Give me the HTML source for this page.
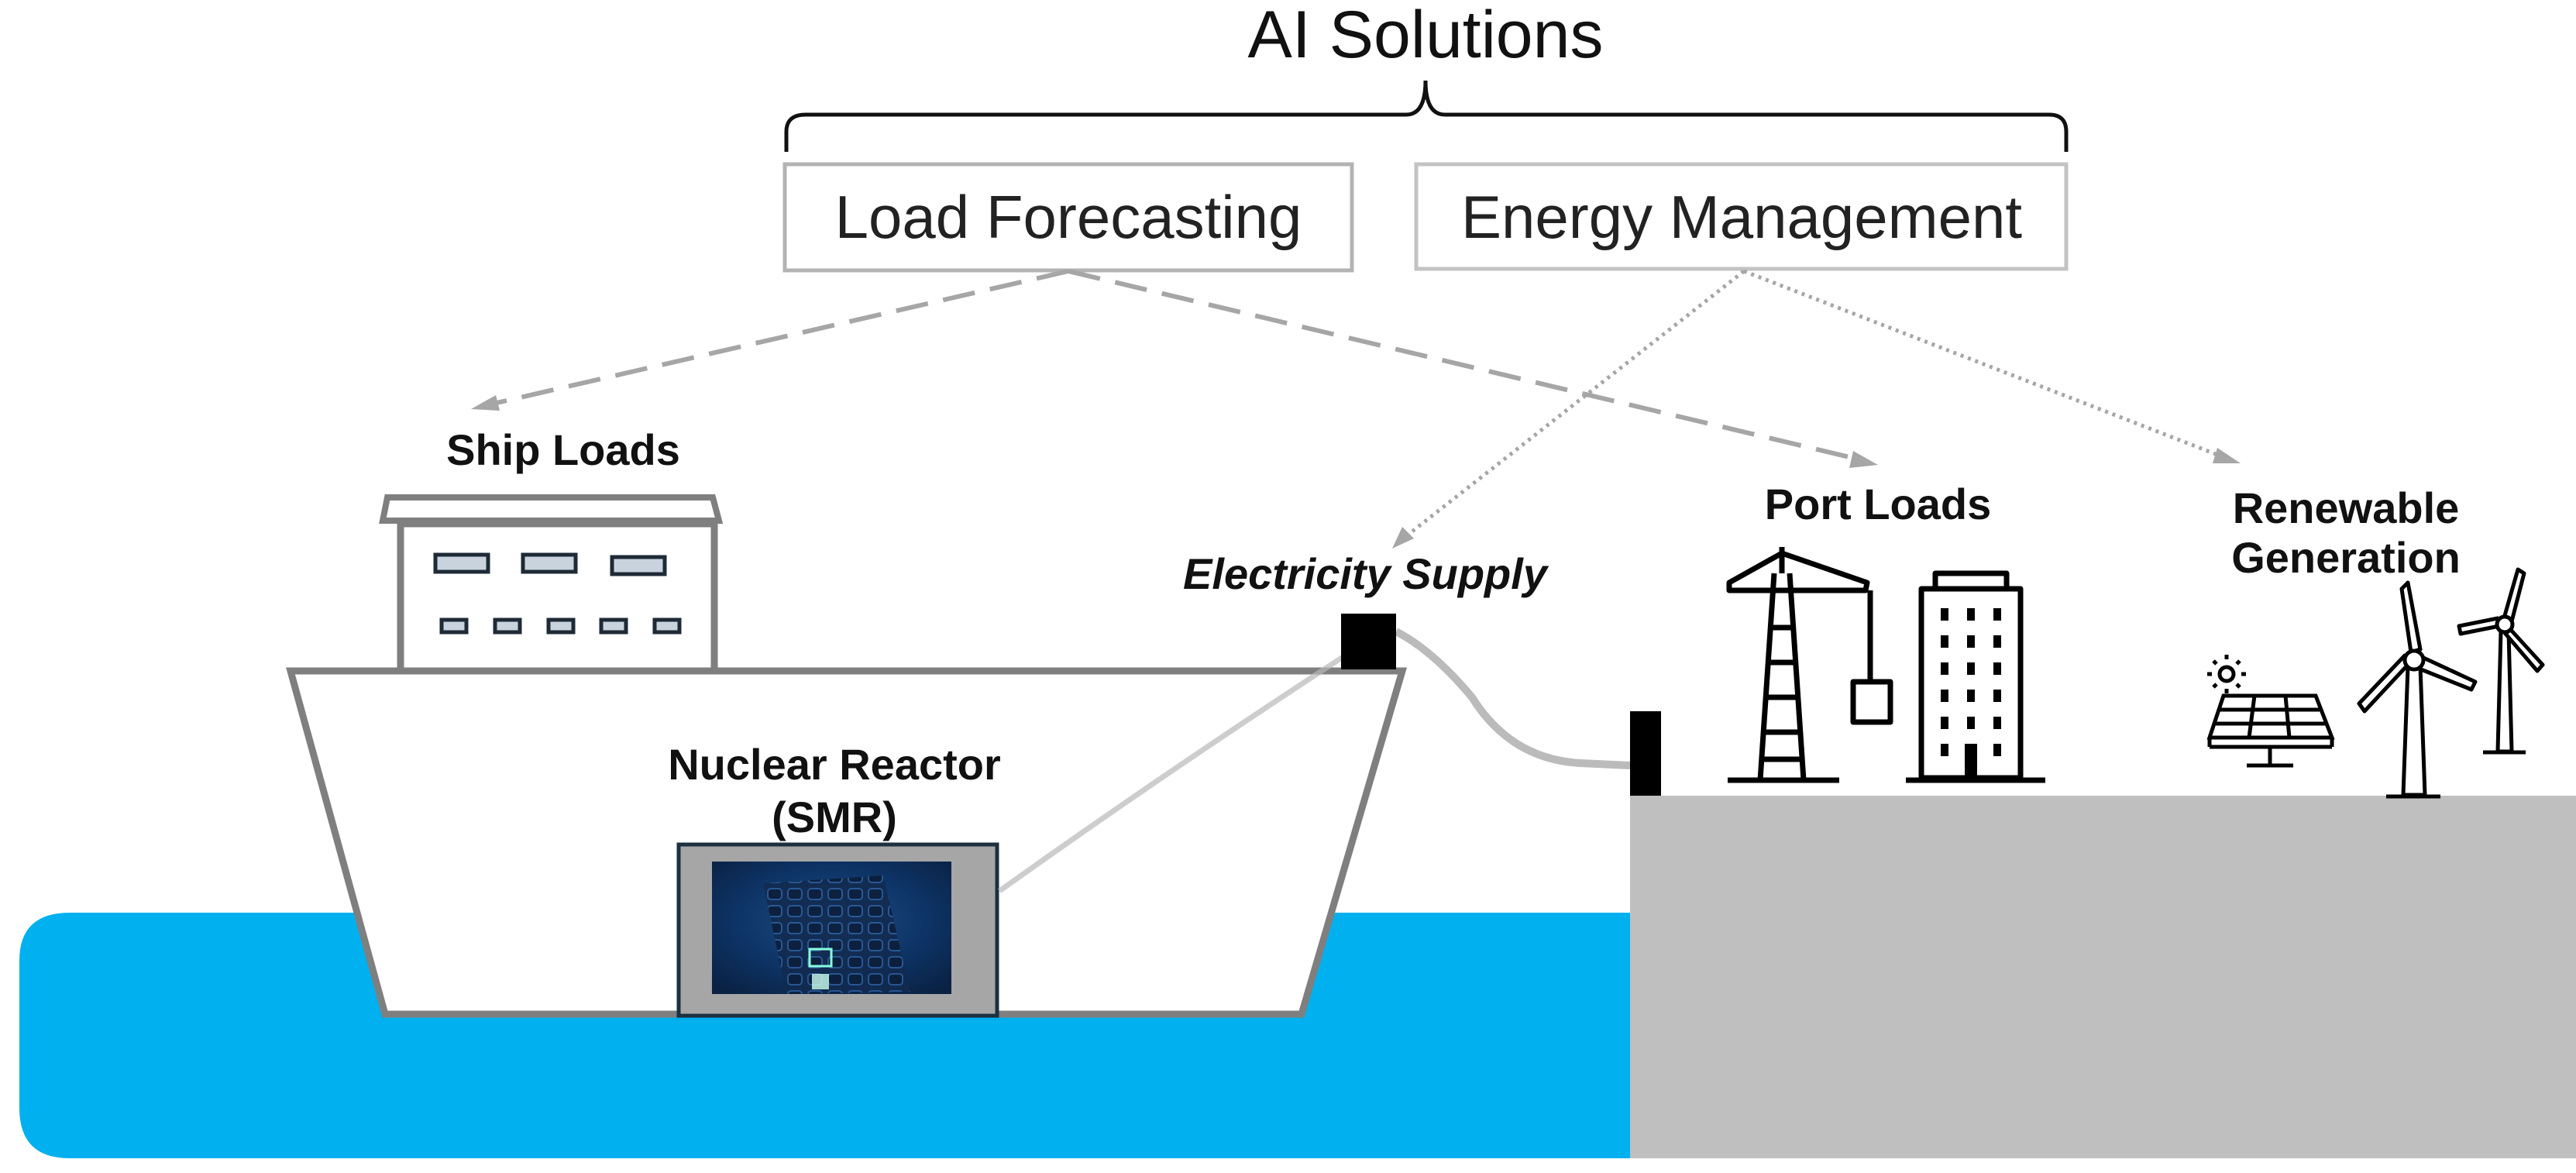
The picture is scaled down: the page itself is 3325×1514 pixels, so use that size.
<!DOCTYPE html>
<html><head><meta charset="utf-8"><style>
html,body{margin:0;padding:0;background:#fff;}
svg{display:block;}
text{font-family:"Liberation Sans",sans-serif;}
</style></head><body>
<svg width="3325" height="1514" viewBox="0 0 3325 1514" xmlns="http://www.w3.org/2000/svg">
<defs>
<radialGradient id="rg" cx="0.5" cy="0.45" r="0.7">
<stop offset="0" stop-color="#1d4f8a"/><stop offset="0.6" stop-color="#0d3263"/><stop offset="1" stop-color="#0a2142"/>
</radialGradient>
<pattern id="grid" width="26" height="22" patternUnits="userSpaceOnUse">
<rect width="26" height="22" fill="#122a4e"/><rect x="3" y="3" width="18" height="14" rx="4" fill="#0c1d38" stroke="#2a5b9a" stroke-width="2"/>
</pattern>
</defs>

<!-- water -->
<path d="M25 1240 Q25 1178 90 1178 L2104 1178 L2104 1495 L90 1495 Q25 1495 25 1430 Z" fill="#00b0ef"/>
<!-- land -->
<rect x="2104" y="1027" width="1221" height="468" fill="#bfbfbf"/>

<!-- title & brace -->
<text x="1840" y="74" font-size="86" text-anchor="middle" fill="#111">AI Solutions</text>
<path d="M1015 196 L1015 170 Q1015 148 1040 148 L1815 148 Q1840 148 1840 104 Q1840 148 1865 148 L2645 148 Q2667 148 2667 170 L2667 196" fill="none" stroke="#111" stroke-width="5"/>

<!-- boxes -->
<rect x="1013" y="212" width="732" height="137" fill="#fff" stroke="#b3b3b3" stroke-width="5"/>
<text x="1379" y="307" font-size="78" text-anchor="middle" fill="#222">Load Forecasting</text>
<rect x="1828" y="212" width="839" height="135" fill="#fff" stroke="#c3c3c3" stroke-width="5"/>
<text x="2248" y="307" font-size="78" text-anchor="middle" fill="#222">Energy Management</text>

<!-- dashed arrows -->
<g stroke="#a6a6a6" stroke-width="6" fill="none">
<line x1="1379" y1="350" x2="628" y2="523" stroke-dasharray="42 20"/>
<line x1="1379" y1="350" x2="2400" y2="593" stroke-dasharray="42 20"/>
</g>
<g stroke="#a6a6a6" stroke-width="5" fill="none" stroke-dasharray="4 6">
<line x1="2251" y1="350" x2="1815" y2="692"/>
<line x1="2251" y1="350" x2="2870" y2="590"/>
</g>
<g fill="#a6a6a6">
<polygon points="608,528 640,510 645,530"/>
<polygon points="2424,600 2392,582 2387,604"/>
<polygon points="1797,708 1810,680 1825,695"/>
<polygon points="2892,598 2862,578 2856,598"/>
</g>

<!-- superstructure -->
<polygon points="500,642 920,642 928,672 494,672" fill="#fff" stroke="#7f7f7f" stroke-width="8"/>
<rect x="517" y="676" width="405" height="190" fill="#fff" stroke="#7f7f7f" stroke-width="9"/>
<g fill="#c9d3dd" stroke="#1e2a36" stroke-width="5">
<rect x="562" y="716" width="68" height="22"/><rect x="675" y="716" width="68" height="22"/><rect x="790" y="719" width="68" height="22"/>
<rect x="570" y="800" width="32" height="16"/><rect x="639" y="800" width="32" height="16"/><rect x="708" y="800" width="32" height="16"/><rect x="776" y="800" width="32" height="16"/><rect x="845" y="800" width="32" height="16"/>
</g>
<!-- hull -->
<polygon points="375,866 1810,866 1680,1309 497,1309" fill="#fff" stroke="#7f7f7f" stroke-width="9"/>

<!-- reactor -->
<rect x="876" y="1090" width="411" height="221" fill="#a6a6a6" stroke="#1c3040" stroke-width="5"/>
<rect x="919" y="1112" width="309" height="171" fill="url(#rg)"/>
<polygon points="985,1140 1140,1130 1175,1280 1015,1283" fill="url(#grid)" opacity="0.9"/>
<rect x="1045" y="1225" width="28" height="22" fill="none" stroke="#8fd" stroke-width="3"/>
<rect x="1048" y="1257" width="22" height="20" fill="#cfe" opacity="0.8"/>

<!-- cables -->
<path d="M1290 1150 Q1500 1000 1738 845" fill="none" stroke="#b8b8b8" stroke-width="7" opacity="0.7"/>
<path d="M1802 815 Q1850 840 1900 900 Q1950 980 2040 985 L2104 988" fill="none" stroke="#aaa" stroke-width="10" opacity="0.8"/>
<rect x="1731" y="792" width="71" height="72" fill="#000"/>
<rect x="2104" y="918" width="40" height="109" fill="#000"/>

<!-- labels -->
<g font-weight="bold" fill="#111" font-size="56" text-anchor="middle">
<text x="727" y="600">Ship Loads</text>
<text x="1077" y="1006">Nuclear Reactor</text>
<text x="1077" y="1074">(SMR)</text>
<text x="1762" y="760" font-style="italic">Electricity Supply</text>
<text x="2424" y="670">Port Loads</text>
<text x="3028" y="675">Renewable</text>
<text x="3028" y="739">Generation</text>
</g>

<!-- crane -->
<g stroke="#000" stroke-width="7" fill="none" stroke-linejoin="round">
<line x1="2300" y1="706" x2="2300" y2="740"/>
<line x1="2290" y1="740" x2="2272" y2="1007"/>
<line x1="2310" y1="740" x2="2328" y2="1007"/>
<line x1="2230" y1="1007" x2="2374" y2="1007"/>
<path d="M2232 752 L2300 714 L2410 752 L2408 762 L2232 762 Z"/>
<line x1="2288" y1="810" x2="2312" y2="810"/>
<line x1="2284" y1="855" x2="2316" y2="855"/>
<line x1="2281" y1="900" x2="2319" y2="900"/>
<line x1="2277" y1="945" x2="2323" y2="945"/>
<line x1="2276" y1="980" x2="2325" y2="980"/>
<line x1="2414" y1="762" x2="2414" y2="880"/>
<rect x="2392" y="880" width="48" height="52"/>
<rect x="2480" y="760" width="128" height="244"/>
<rect x="2498" y="740" width="92" height="20"/>
<line x1="2460" y1="1007" x2="2640" y2="1007"/>
</g>
<g fill="#000">
<rect x="2505" y="785" width="10" height="16"/><rect x="2539" y="785" width="10" height="16"/><rect x="2573" y="785" width="10" height="16"/>
<rect x="2505" y="820" width="10" height="16"/><rect x="2539" y="820" width="10" height="16"/><rect x="2573" y="820" width="10" height="16"/>
<rect x="2505" y="855" width="10" height="16"/><rect x="2539" y="855" width="10" height="16"/><rect x="2573" y="855" width="10" height="16"/>
<rect x="2505" y="890" width="10" height="16"/><rect x="2539" y="890" width="10" height="16"/><rect x="2573" y="890" width="10" height="16"/>
<rect x="2505" y="925" width="10" height="16"/><rect x="2539" y="925" width="10" height="16"/><rect x="2573" y="925" width="10" height="16"/>
<rect x="2505" y="960" width="10" height="16"/><rect x="2573" y="960" width="10" height="16"/>
<rect x="2536" y="960" width="16" height="44"/>
</g>

<!-- solar -->
<g stroke="#000" stroke-width="5" fill="none">
<circle cx="2874" cy="870" r="9"/>
<path d="M2874 851v-6M2874 889v6M2855 870h-6M2893 870h6M2861 857l-4-4M2887 857l4-4M2861 883l-4 4M2887 883l4 4"/>
<polygon points="2870,898 2989,898 3010,952 2852,952"/>
<line x1="2852" y1="964" x2="3010" y2="964"/><line x1="2852" y1="952" x2="2852" y2="964"/><line x1="3010" y1="952" x2="3010" y2="964"/>
<line x1="2866" y1="916" x2="2994" y2="916"/><line x1="2860" y1="934" x2="3002" y2="934"/>
<line x1="2910" y1="898" x2="2903" y2="952"/><line x1="2950" y1="898" x2="2955" y2="952"/>
<line x1="2930" y1="964" x2="2930" y2="988"/><line x1="2900" y1="988" x2="2960" y2="988"/>
</g>
<!-- turbines -->
<g stroke="#000" stroke-width="5" fill="#fff" stroke-linejoin="round">
<polygon points="3108,860 3124,860 3130,1026 3102,1026"/>
<line x1="3080" y1="1028" x2="3150" y2="1028"/>
<path d="M3112 842 L3100 760 L3108 752 L3124 838 Z"/>
<path d="M3126 848 L3195 880 L3190 890 L3120 862 Z"/>
<path d="M3108 858 L3052 918 L3045 908 L3104 846 Z"/>
<circle cx="3116" cy="852" r="12"/>
<polygon points="3228,815 3238,815 3242,970 3224,970"/>
<line x1="3205" y1="971" x2="3260" y2="971"/>
<path d="M3232 798 L3250 735 L3258 740 L3242 802 Z"/>
<path d="M3240 812 L3282 858 L3275 866 L3234 818 Z"/>
<path d="M3226 808 L3176 818 L3174 808 L3224 798 Z"/>
<circle cx="3233" cy="806" r="10"/>
</g>
</svg>
</body></html>
